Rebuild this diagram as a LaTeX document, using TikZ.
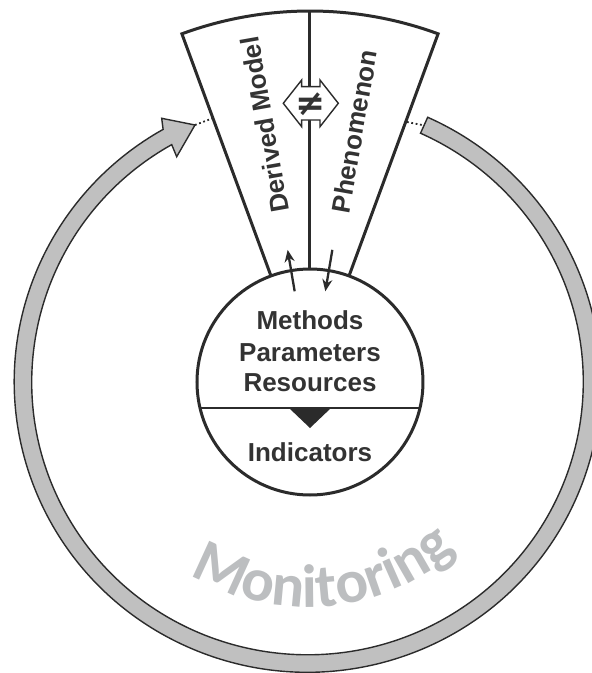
\documentclass[tikz,border=0pt]{standalone}
\usepackage{fontspec}
\setmainfont{Liberation Sans}
\newfontfamily\monfam{Carlito}
\newfontfamily\symfam{DejaVu Sans}
\usetikzlibrary{decorations.text,arrows.meta}
\definecolor{ink}{HTML}{2B2B2B}
\definecolor{txt}{HTML}{333333}
\definecolor{ringgray}{HTML}{C0C0C0}
\definecolor{mongray}{HTML}{BCBEC0}
\begin{document}
\begin{tikzpicture}[x=1pt,y=1pt,
  lbl/.style={font=\bfseries\fontsize{26}{30}\selectfont, text=txt, inner sep=0pt},
  ringstyle/.style={fill=ringgray, draw=ink, line width=1.4pt, line join=miter},
  edgeline/.style={draw=ink, line width=3pt},
  smallarrow/.style={draw=ink, line width=2.3pt, -{Stealth[length=12pt,width=10pt]}},
  dots/.style={draw=ink, line width=1.8pt, dash pattern=on 1.8pt off 2.6pt}]
\useasboundingbox (-310,-291) rectangle (282,382);
\coordinate (G) at (-2.5,0);
% ring arrow
\draw[ringstyle] ([shift={(65.8:293.25pt and 290.25pt)}]G)
  arc[start angle=65.8, end angle=-240.5, x radius=293.25pt, y radius=290.25pt]
  -- (-148.3,263.7) -- (-115,257) -- (-133.3,225.3)
  -- ([shift={(-240.5:275.75pt and 272.75pt)}]G)
  arc[start angle=-240.5, end angle=65.8, x radius=275.75pt, y radius=272.75pt] -- cycle;
\coordinate (tipL) at (-115,257);
\coordinate (wedL) at (-98,263.5);
\coordinate (wedR) at (97,260);
\coordinate (endR) at (112,257);
\draw[dots] (tipL) -- (wedL);
\draw[dots] (wedR) -- (endR);
% wedge
\draw[edgeline, fill=white] (110.2:113) -- (110.2:371)
  arc[start angle=110.2, end angle=69.8, radius=371pt] -- (69.8:113);
\draw[edgeline] (90:113) -- (90:371);
% double arrow with not-equal
\draw[draw=ink, line width=1.4pt, fill=white]
  (-26.7,278.7) -- (-8.3,302) -- (-8.3,295.3) -- (10,295.3) -- (10,302)
  -- (28.3,278.7) -- (10,255.3) -- (10,262) -- (-8.3,262) -- (-8.3,255.3) -- cycle;
\node[inner sep=0pt, text=txt, font=\symfam\bfseries\fontsize{36}{38}\selectfont] (neq) at (0.7,278.2) {≠};
% texts in wedge
\node[lbl, rotate=100, anchor=west] (dm) at (100:172) {Derived Model};
\node[lbl, rotate=80, anchor=west] (ph) at (80:172) {Phenomenon};
% circle
\node[circle, draw=ink, line width=3pt, fill=white, minimum size=226pt, inner sep=0pt] (disk) at (0,0) {};
\coordinate (divL) at (-110,-26);
\coordinate (divR) at (110,-26);
\draw[ink, line width=2pt] (divL) -- (divR);
\fill[ink] (-21,-26) -- (21,-26) -- (0,-46) -- cycle;
\draw[smallarrow] (99.6:92) -- (99.6:134);
\draw[smallarrow] (80.4:134) -- (80.4:92);
\node[lbl, anchor=base] (m1) at (0,52.7) {Methods};
\node[lbl, anchor=base] (m2) at (0,21) {Parameters};
\node[lbl, anchor=base] (m3) at (0,-9.7) {Resources};
\node[lbl, anchor=base] (m4) at (0,-79.7) {Indicators};
% Monitoring
\path[decorate, decoration={text along path, text align=center, text color=mongray,
  text={|\monfam\bfseries\fontsize{61}{64}\selectfont|Monitoring}}]
  ([shift={(-150:225pt)}]G) arc[start angle=-150, end angle=-20, radius=225pt];
\end{tikzpicture}
\end{document}
